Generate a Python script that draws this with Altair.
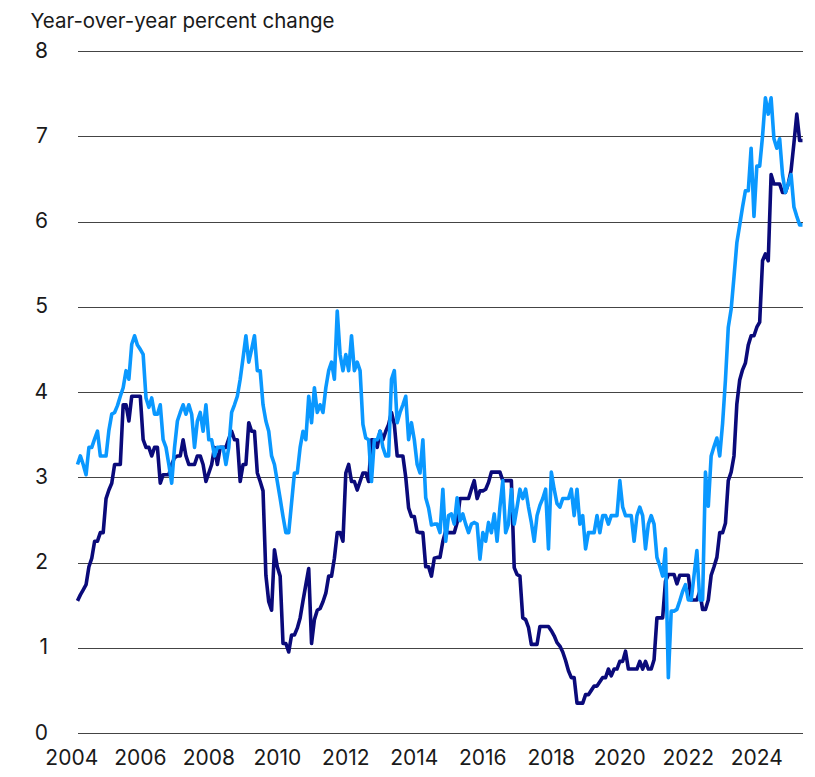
import altair as alt
import pandas as pd

# Monthly series, March 2004 through May 2025
start_year = 2004
start_month = 3

dark_values = [
    # 2004 (Mar-Dec)
    1.55, 1.62, 1.68, 1.74, 1.95, 2.05, 2.25, 2.25, 2.35, 2.35,
    # 2005
    2.75, 2.85, 2.93, 3.15, 3.15, 3.15, 3.85, 3.85, 3.66, 3.95, 3.95, 3.95,
    # 2006
    3.95, 3.44, 3.35, 3.35, 3.25, 3.35, 3.35, 2.93, 3.03, 3.03, 3.03, 3.15,
    # 2007
    3.23, 3.25, 3.25, 3.44, 3.25, 3.15, 3.15, 3.15, 3.25, 3.25, 3.15, 2.95,
    # 2008
    3.05, 3.15, 3.35, 3.15, 3.35, 3.35, 3.35, 3.45, 3.54, 3.44, 3.44, 2.95,
    # 2009
    3.15, 3.15, 3.64, 3.54, 3.54, 3.05, 2.95, 2.84, 1.85, 1.54, 1.44, 2.15,
    # 2010
    1.95, 1.84, 1.05, 1.05, 0.95, 1.15, 1.15, 1.23, 1.35, 1.55, 1.74, 1.93,
    # 2011
    1.05, 1.33, 1.44, 1.46, 1.54, 1.64, 1.84, 1.84, 2.05, 2.35, 2.35, 2.25,
    # 2012
    3.05, 3.15, 2.95, 2.95, 2.85, 2.95, 3.05, 3.05, 2.95, 3.44, 3.44, 3.35,
    # 2013
    3.54, 3.44, 3.54, 3.62, 3.76, 3.62, 3.25, 3.25, 3.25, 3.00, 2.64, 2.54,
    # 2014
    2.54, 2.36, 2.35, 2.35, 1.95, 1.95, 1.84, 2.05, 2.06, 2.06, 2.25, 2.37,
    # 2015
    2.35, 2.35, 2.35, 2.47, 2.75, 2.75, 2.75, 2.75, 2.86, 2.96, 2.75, 2.84,
    # 2016
    2.84, 2.86, 2.94, 3.06, 3.06, 3.06, 3.06, 2.96, 2.96, 2.96, 2.96, 1.94,
    # 2017
    1.86, 1.84, 1.35, 1.33, 1.24, 1.04, 1.04, 1.04, 1.25, 1.25, 1.25, 1.25,
    # 2018
    1.20, 1.14, 1.06, 1.02, 0.95, 0.85, 0.73, 0.65, 0.65, 0.35, 0.35, 0.35,
    # 2019
    0.45, 0.45, 0.50, 0.55, 0.55, 0.60, 0.65, 0.65, 0.75, 0.67, 0.75, 0.75,
    # 2020
    0.84, 0.84, 0.96, 0.75, 0.75, 0.75, 0.75, 0.84, 0.75, 0.84, 0.75, 0.75,
    # 2021
    0.86, 1.35, 1.35, 1.35, 1.78, 1.86, 1.86, 1.86, 1.75, 1.85, 1.85, 1.85,
    # 2022
    1.85, 1.56, 1.56, 1.56, 1.66, 1.45, 1.45, 1.56, 1.85, 1.95, 2.06, 2.35,
    # 2023
    2.35, 2.46, 2.96, 3.06, 3.25, 3.86, 4.14, 4.26, 4.34, 4.55, 4.66, 4.66,
    # 2024
    4.76, 4.82, 5.54, 5.62, 5.54, 6.55, 6.44, 6.44, 6.44, 6.34, 6.34, 6.44,
    # 2025 (Jan-May)
    6.60, 6.92, 7.26, 6.95, 6.95,
]

light_values = [
    # 2004 (Mar-Dec)
    3.15, 3.25, 3.15, 3.03, 3.35, 3.35, 3.45, 3.54, 3.25, 3.25,
    # 2005
    3.25, 3.55, 3.74, 3.76, 3.84, 3.95, 4.05, 4.25, 4.15, 4.56, 4.66, 4.55,
    # 2006
    4.50, 4.44, 3.93, 3.82, 3.93, 3.74, 3.74, 3.85, 3.44, 3.35, 3.15, 2.93,
    # 2007
    3.35, 3.66, 3.76, 3.85, 3.74, 3.85, 3.74, 3.35, 3.66, 3.76, 3.54, 3.85,
    # 2008
    3.44, 3.44, 3.25, 3.35, 3.35, 3.35, 3.15, 3.35, 3.76, 3.85, 3.95, 4.15,
    # 2009
    4.40, 4.66, 4.35, 4.50, 4.66, 4.25, 4.25, 3.85, 3.66, 3.54, 3.25, 3.15,
    # 2010
    2.95, 2.75, 2.54, 2.35, 2.35, 2.70, 3.05, 3.05, 3.35, 3.54, 3.44, 3.95,
    # 2011
    3.64, 4.05, 3.76, 3.85, 3.76, 4.05, 4.25, 4.35, 4.15, 4.95, 4.44, 4.25,
    # 2012
    4.44, 4.25, 4.66, 4.25, 4.35, 4.25, 3.62, 3.46, 3.44, 2.95, 3.44, 3.44,
    # 2013
    3.54, 3.35, 3.25, 3.25, 4.15, 4.25, 3.64, 3.76, 3.85, 3.95, 3.44, 3.64,
    # 2014
    3.44, 3.15, 3.05, 3.44, 2.76, 2.64, 2.44, 2.45, 2.45, 2.35, 2.86, 2.25,
    # 2015
    2.55, 2.57, 2.45, 2.76, 2.49, 2.57, 2.45, 2.35, 2.45, 2.47, 2.45, 2.04,
    # 2016
    2.35, 2.25, 2.47, 2.35, 2.57, 2.25, 2.65, 2.96, 2.35, 2.45, 2.86, 2.45,
    # 2017
    2.65, 2.86, 2.75, 2.86, 2.65, 2.47, 2.25, 2.55, 2.67, 2.75, 2.86, 2.16,
    # 2018
    3.06, 2.86, 2.69, 2.65, 2.75, 2.75, 2.75, 2.86, 2.55, 2.86, 2.45, 2.55,
    # 2019
    2.16, 2.35, 2.35, 2.35, 2.55, 2.35, 2.55, 2.55, 2.45, 2.55, 2.55, 2.55,
    # 2020
    2.96, 2.65, 2.55, 2.55, 2.55, 2.25, 2.55, 2.65, 2.55, 2.16, 2.45, 2.55,
    # 2021
    2.45, 2.06, 1.96, 1.84, 2.16, 0.65, 1.43, 1.43, 1.45, 1.55, 1.66, 1.74,
    # 2022
    1.56, 1.56, 1.85, 2.14, 1.56, 1.56, 3.06, 2.66, 3.25, 3.36, 3.46, 3.25,
    # 2023
    3.63, 4.14, 4.76, 4.97, 5.35, 5.75, 5.96, 6.17, 6.36, 6.36, 6.86, 6.06,
    # 2024
    6.65, 6.65, 7.00, 7.45, 7.26, 7.45, 6.97, 6.86, 6.97, 6.55, 6.34, 6.44,
    # 2025 (Jan-May)
    6.55, 6.17, 6.06, 5.96, 5.96,
]

year_ticks = [2004, 2006, 2008, 2010, 2012, 2014, 2016, 2018, 2020, 2022, 2024]
y_ticks = [0, 1, 2, 3, 4, 5, 6, 7, 8]
y_title = "Year-over-year percent change"

dark_color = "#0a0a7a"
light_color = "#0a98ff"

n = len(dark_values)
t = [start_year + (start_month - 1 + i) / 12 for i in range(n)]
df = pd.DataFrame({
    "t": t + t,
    "value": dark_values + light_values,
    "series": ["dark"] * n + ["light"] * len(light_values),
})
ticks_df = pd.DataFrame({"year": year_ticks, "label": [str(y) for y in year_ticks]})

font = "Inter"
text_color = "#1a1a1a"
x_scale = alt.Scale(domain=[t[0], t[-1]], nice=False, zero=False)

x_enc = alt.X("t:Q", scale=x_scale, axis=None)
y_enc = alt.Y(
    "value:Q",
    scale=alt.Scale(domain=[0, 8], nice=False),
    axis=alt.Axis(
        values=y_ticks, title=y_title, grid=True, gridColor="#444444",
        gridWidth=1, ticks=False, domain=False, labelFontSize=21,
        labelFont=font, labelColor=text_color, labelPadding=30,
        titleAngle=0, titleX=-47.5, titleY=-24, titleAlign="left",
        titleBaseline="alphabetic", titleFont=font, titleFontSize=20.5,
        titleFontWeight="normal", titleColor=text_color,
    ),
)

dark = alt.Chart(df).transform_filter(alt.datum.series == "dark").mark_line(
    color=dark_color, strokeWidth=3.6, strokeJoin="round"
).encode(x=x_enc, y=y_enc)

light = alt.Chart(df).transform_filter(alt.datum.series == "light").mark_line(
    color=light_color, strokeWidth=3.6, strokeJoin="round"
).encode(x=x_enc, y=y_enc)

year_labels = alt.Chart(ticks_df).mark_text(
    font=font, fontSize=21, color=text_color, align="center",
    baseline="alphabetic", clip=False,
).encode(
    x=alt.X("year:Q", scale=x_scale, axis=None),
    y=alt.value(714),
    text="label:N",
)

chart = alt.layer(dark, light, year_labels).properties(
    width=725, height=682, autosize="none",
    padding={"left": 69.5, "top": 43, "right": 4, "bottom": 36},
).configure_view(stroke=None)

chart.save("out.html", embed_options={"renderer": "svg", "actions": False})
